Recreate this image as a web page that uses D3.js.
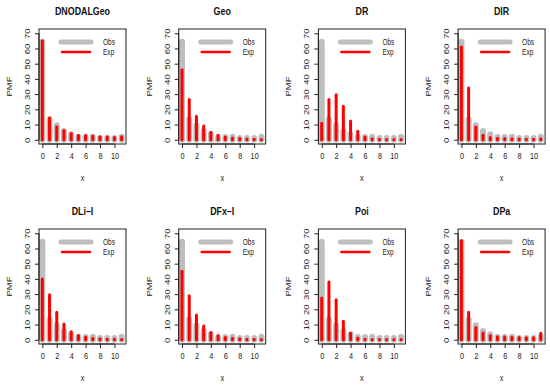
<!DOCTYPE html>
<html>
<head>
<meta charset="utf-8">
<script src="https://cdn.jsdelivr.net/npm/d3@7"></script>
<style>
  body { margin: 0; background: #fff; }
  svg { display: block; font-family: "Liberation Sans", Arial, sans-serif; }
</style>
</head>
<body>
<div id="chart"></div>
<script>
// counts 0..11
const xs = [0, 1, 2, 3, 4, 5, 6, 7, 8, 9, 10, 11];
const xTicks = [0, 2, 4, 6, 8, 10];
const yTicks = [0, 10, 20, 30, 40, 50, 60, 70];

// observed PMF (%), same in every panel
const obs = [64.5, 13.5, 9.5, 5.8, 3.6, 1.8, 1.8, 1.9, 1.2, 1.2, 1.2, 1.9];

// expected PMF (%) per model
const modelNames = ["DNODALGeo", "Geo", "DR", "DIR", "DLi–I", "DFx–I", "Poi", "DPa"];
const expDNODALGeo = [65, 14.3, 8.6, 6, 4.1, 3, 2.8, 2.5, 2, 1.9, 1.5, 2];
const expGeo = [46, 26.5, 15.5, 9, 5, 3, 1.8, 1.2, 0.8, 0.5, 0.3, 0.2];
const expDR = [10.8, 26.5, 29.5, 22, 12.3, 5.5, 1.8, 0.7, 0.3, 0.2, 0.1, 0.1];
const expDIR = [61, 34, 8.3, 3, 1.5, 1, 0.8, 0.6, 0.5, 0.4, 0.4, 0.6];
const expDLiI = [40, 29.5, 18, 10.3, 5.3, 2.8, 1.6, 1, 0.6, 0.4, 0.3, 0.2];
const expDFxI = [45, 29, 16.3, 9, 4.8, 2.6, 1.4, 0.9, 0.6, 0.4, 0.3, 0.2];
const expPoi = [27.5, 38, 26.3, 12.2, 4.3, 1.2, 0.4, 0.1, 0.1, 0.1, 0.1, 0.1];
const expDPa = [65, 18, 8, 4.5, 2.8, 2, 1.8, 1.6, 1.4, 1.3, 1.3, 4.2];
const expected = [expDNODALGeo, expGeo, expDR, expDIR, expDLiI, expDFxI, expPoi, expDPa];

const width = 550, height = 386;
const boxW = 87, boxH = 115;
const colStep = 139.7, rowStep = 200;
const squeeze = 0.77; // text in the source image is horizontally narrow

const svg = d3.select("#chart").append("svg")
    .attr("width", width)
    .attr("height", height);

const x = d3.scaleLinear().domain([-0.46, 11.6]).range([0, boxW]);
const y = d3.scaleLinear().domain([-2.8, 72.8]).range([boxH, 0]);

modelNames.forEach((name, i) => {
    const col = i % 4, row = Math.floor(i / 4);
    const left = 39 + col * colStep, top = 29 + row * rowStep;
    const g = svg.append("g").attr("transform", `translate(${left},${top})`);

    // observed bars (thick grey)
    g.selectAll(".obs")
        .data(xs)
        .enter().append("line")
        .attr("class", "obs")
        .attr("x1", d => x(d)).attr("x2", d => x(d))
        .attr("y1", y(0)).attr("y2", d => y(obs[d]))
        .attr("stroke", "#bebebe")
        .attr("stroke-width", 6)
        .attr("stroke-linecap", "round");

    // expected bars (thin red)
    g.selectAll(".exp")
        .data(xs)
        .enter().append("line")
        .attr("class", "exp")
        .attr("x1", d => x(d)).attr("x2", d => x(d))
        .attr("y1", y(0)).attr("y2", d => y(expected[i][d]))
        .attr("stroke", "#ff0000")
        .attr("stroke-width", 3)
        .attr("stroke-linecap", "round");

    // box
    g.append("rect")
        .attr("width", boxW).attr("height", boxH)
        .attr("fill", "none").attr("stroke", "#222").attr("stroke-width", 1);

    // x axis
    const xAxis = d3.axisBottom(x).tickValues(xTicks).tickSize(4).tickPadding(4);
    const gx = g.append("g").attr("transform", `translate(0,${boxH})`).call(xAxis);
    gx.select(".domain").attr("d", `M${x(0)},0H${x(10)}`).attr("stroke", "#222");
    gx.selectAll(".tick line").attr("stroke", "#222");
    gx.selectAll("text")
        .attr("transform", `scale(${squeeze},1)`)
        .attr("font-size", 9.5).attr("fill", "#222").attr("font-family", null);

    // y axis, labels parallel to the axis
    const yAxis = d3.axisLeft(y).tickValues(yTicks).tickSize(4).tickFormat(d3.format("d"));
    const gy = g.append("g").call(yAxis);
    gy.select(".domain").attr("d", `M0,${y(0)}V${y(70)}`).attr("stroke", "#222");
    gy.selectAll(".tick line").attr("stroke", "#222");
    gy.selectAll("text")
        .attr("x", null).attr("dy", null)
        .attr("transform", `translate(-9,0) scale(${squeeze},1) rotate(-90)`)
        .attr("text-anchor", "middle")
        .attr("font-size", 9.5).attr("fill", "#222").attr("font-family", null);

    // axis titles
    g.append("text")
        .attr("transform", `translate(${boxW / 2},${boxH + 36.5}) scale(${squeeze},1)`)
        .attr("text-anchor", "middle").attr("font-size", 9.5).attr("fill", "#222")
        .text("x");
    g.append("text")
        .attr("transform", `translate(-27,${boxH / 2}) scale(${squeeze},1) rotate(-90)`)
        .attr("text-anchor", "middle").attr("font-size", 9.5).attr("fill", "#222")
        .text("PMF");

    // panel title
    g.append("text")
        .attr("transform", `translate(${boxW / 2},-14) scale(${squeeze},1)`)
        .attr("text-anchor", "middle").attr("font-size", 11.5).attr("font-weight", "bold")
        .attr("fill", "#111")
        .text(name);

    // legend
    const legend = [
        { label: "Obs", color: "#bebebe", w: 5, x1: 22, x2: 52, dy: 13 },
        { label: "Exp", color: "#ff0000", w: 2.5, x1: 23, x2: 51, dy: 23 }
    ];
    const lg = g.selectAll(".leg").data(legend).enter().append("g").attr("class", "leg");
    lg.append("line")
        .attr("x1", d => d.x1).attr("x2", d => d.x2)
        .attr("y1", d => d.dy).attr("y2", d => d.dy)
        .attr("stroke", d => d.color).attr("stroke-width", d => d.w)
        .attr("stroke-linecap", "round");
    lg.append("text")
        .attr("transform", d => `translate(64,${d.dy + 3}) scale(${squeeze},1)`)
        .attr("font-size", 8.5).attr("fill", "#222")
        .text(d => d.label);
});
</script>
</body>
</html>
